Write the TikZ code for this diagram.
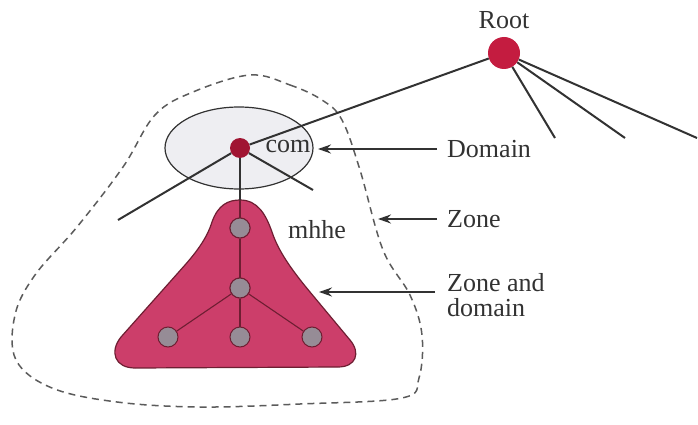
\documentclass[tikz,border=0pt]{standalone}
\usepackage{fontspec}
\setmainfont{Liberation Serif}
\newfontfamily\labelfont{Liberation Serif}
\usetikzlibrary{arrows.meta,shapes.geometric}
\definecolor{rootred}{RGB}{196,28,64}
\definecolor{comred}{RGB}{160,20,50}
\definecolor{trifill}{RGB}{204,62,106}
\definecolor{triline}{RGB}{110,30,50}
\definecolor{nodegray}{RGB}{150,140,150}
\definecolor{ellfill}{RGB}{238,238,242}
\definecolor{ink}{RGB}{50,50,50}
\tikzset{
  txt/.style={font=\labelfont\fontsize{26}{28}\selectfont, text=ink, inner sep=0pt},
  edge/.style={draw=ink, line width=2},
  inedge/.style={draw=triline, line width=1.1},
  graynode/.style={circle, fill=nodegray, draw=triline, line width=1, minimum size=20, inner sep=0pt},
  pointer/.style={draw=ink, line width=2, -{Stealth[length=13,width=9]}},
  zone/.style={draw=ink!80, line width=1.5, dash pattern=on 7 off 5},
}
\begin{document}
\begin{tikzpicture}[x=1pt,y=-1pt]
\useasboundingbox (0,0) rectangle (698,425);
% zone boundary
\draw[zone] plot[smooth cycle, tension=0.6] coordinates {
 (250,75) (290,85) (322,100) (342,120) (360,170) (383,250) (410,295)
 (422,335) (419,378) (402,398) (300,404) (200,407) (117,402) (52,388)
 (16,360) (15,315) (35,275) (77,227) (123,167) (155,115) (193,92)};
% domain ellipse
\node[ellipse, draw=ink, line width=1.2, fill=ellfill, minimum width=148, minimum height=82] (ell) at (239,148) {};
% triangle zone/domain
\draw[fill=trifill, draw=triline, line width=1.2]
 (240,200) .. controls (258,200) and (266,215) .. (272,232)
 .. controls (278,250) and (290,268) .. (310,292)
 -- (350,340)
 .. controls (361,353) and (356,367) .. (338,367)
 -- (135,368)
 .. controls (115,368) and (109,352) .. (121,337)
 -- (185,265)
 .. controls (200,248) and (208,235) .. (212,222)
 .. controls (218,205) and (228,200) .. (240,200) -- cycle;
% nodes
\node[circle, fill=rootred, minimum size=32, inner sep=0pt] (root) at (504,53) {};
\node[circle, fill=comred, minimum size=20, inner sep=0pt] (com) at (240,148) {};
\node[graynode] (g1) at (240,228) {};
\node[graynode] (g2) at (240,288) {};
\node[graynode] (g3) at (168,337) {};
\node[graynode] (g4) at (240,337) {};
\node[graynode] (g5) at (312,337) {};
% free ends
\coordinate (r1) at (555,138);
\coordinate (r2) at (625,138);
\coordinate (r3) at (697,138);
\coordinate (c1) at (118,220);
\coordinate (c2) at (313,190);
\coordinate (ttop) at (240,200);
% root edges
\draw[edge] (root) -- (com);
\draw[edge] (root) -- (r1);
\draw[edge] (root) -- (r2);
\draw[edge] (root) -- (r3);
\draw[edge] (com) -- (c1);
\draw[edge] (com) -- (c2);
\draw[edge, line width=1.3] (com) -- (ttop);
\draw[inedge] (ttop) -- (g1);
\draw[inedge] (g1) -- (g2);
\draw[inedge] (g2) -- (g3);
\draw[inedge] (g2) -- (g4);
\draw[inedge] (g2) -- (g5);
\node[graynode] at (g1) {};
\node[graynode] at (g2) {};
% labels
\node[txt] (lroot) at (504,20) {Root};
\node[txt] (lcom) at (288,147) {com};
\node[txt] (lmhhe) at (317,230) {mhhe};
\node[txt, anchor=west] (ldom) at (447,149) {Domain};
\node[txt, anchor=west] (lzone) at (447,219) {Zone};
\node[txt, anchor=west, align=left] (lzd) at (447,295) {Zone and\\[-3pt]domain};
% pointers
\coordinate (pd) at (318,149);
\coordinate (pz) at (378,219);
\coordinate (pzd) at (319,292);
\draw[pointer] ([xshift=-10]ldom.west) -- (pd);
\draw[pointer] ([xshift=-10]lzone.west) -- (pz);
\draw[pointer] (435,292) -- (pzd);
\end{tikzpicture}
\end{document}
